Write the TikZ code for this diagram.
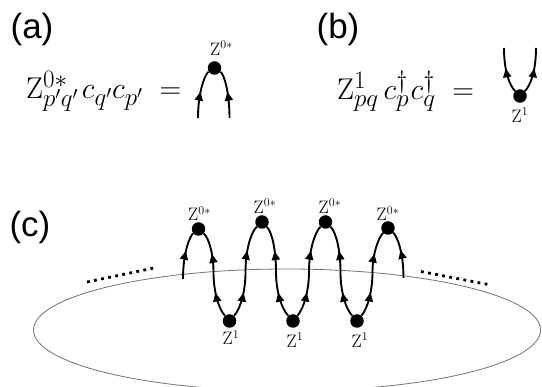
\RequirePackage{fix-cm}
\documentclass[tikz,border=0pt]{standalone}
\usepackage[no-math]{fontspec}
\setmainfont{Liberation Sans}
\usetikzlibrary{decorations.markings,arrows.meta}
\DeclareMathSizes{30}{30}{25}{18}
\DeclareMathSizes{18}{18}{12}{9}
\newcommand{\bigfs}{\fontsize{35}{38}\selectfont}
\newcommand{\eqfs}{\fontsize{30}{33}\selectfont}
\newcommand{\lblfs}{\fontsize{18}{19}\selectfont}
\tikzset{
  x=1pt,y=-1pt,
  vtx/.style={circle,fill=black,draw=none,minimum size=13.5pt,inner sep=0pt},
  panel/.style={font=\bigfs,inner sep=0pt},
  eqn/.style={font=\eqfs,inner sep=0pt},
  lbl/.style={font=\lblfs,inner sep=0pt},
  ar/.style={line width=1.9pt,black,postaction={decorate},decoration={markings,mark=at position #1 with {\arrow{Triangle[length=9pt,width=8pt]}}}},
  dots/.style={line width=2.8pt,dash pattern=on 2.8pt off 4.4pt},
}
\begin{document}
\begin{tikzpicture}
\clip (0,0) rectangle (542,387);
\useasboundingbox (0,0) rectangle (542,387);
% ellipse
\draw[line width=0.8pt,black!55] (287,330) ellipse [x radius=253.5,y radius=61];
% panel labels
\node[panel] (la) at (32,29) {(a)};
\node[panel] (lb) at (338,29) {(b)};
\node[panel] (lc) at (30,227) {(c)};
% equations
\node[eqn,anchor=base west] (ea) at (26,98.5) {$\mathrm{Z}^{0*}_{p'q'}\mkern2mu c_{q'}c_{p'}\;=$};
\node[eqn,anchor=base west] (eb) at (337,99.5) {$\mathrm{Z}^{1}_{pq}\mkern3mu c^\dagger_{p}\mkern1mu c^\dagger_{q}\;=$};
% (a)
\node[vtx] (a0) at (214.5,68) {};
\coordinate (a1) at (198,118);
\coordinate (a2) at (229.5,118);
\node[lbl] (az) at (221.5,48) {$\mathrm{Z}^{0*}$};
\draw[ar=0.55] (a1) .. controls (198,92) and (205,74) .. (a0);
\draw[ar=0.55] (a2) .. controls (229.5,92) and (224,74) .. (a0);
% (b)
\node[vtx] (b0) at (520,96) {};
\coordinate (b1) at (504,48);
\coordinate (b2) at (536,48);
\node[lbl] (bz) at (520,115) {$\mathrm{Z}^{1}$};
\draw[ar=0.55] (b0) .. controls (510,86) and (504,72) .. (b1);
\draw[ar=0.55] (b0) .. controls (530,86) and (536,72) .. (b2);
% (c)
\node[vtx] (t1) at (198.5,229) {};
\node[vtx] (t2) at (262,222) {};
\node[vtx] (t3) at (325.5,222) {};
\node[vtx] (t4) at (388,228) {};
\node[vtx] (u1) at (229.5,321) {};
\node[vtx] (u2) at (293,321) {};
\node[vtx] (u3) at (357,321) {};
\coordinate (s) at (183,279);
\coordinate (e) at (403.5,278);
\coordinate (m1) at (213.5,272);
\coordinate (m2) at (245.5,272);
\coordinate (m3) at (276,272);
\coordinate (m4) at (309,272);
\coordinate (m5) at (340.5,272);
\coordinate (m6) at (372.5,272);
\node[lbl] at (199.5,213.5) {$\mathrm{Z}^{0*}$};
\node[lbl] at (265,206) {$\mathrm{Z}^{0*}$};
\node[lbl] at (330,206) {$\mathrm{Z}^{0*}$};
\node[lbl] at (388,213.5) {$\mathrm{Z}^{0*}$};
\node[lbl] at (231,337.5) {$\mathrm{Z}^{1}$};
\node[lbl] at (295,340) {$\mathrm{Z}^{1}$};
\node[lbl] at (360,340) {$\mathrm{Z}^{1}$};
\draw[ar=0.6] (s) .. controls (183,252) and (190,236) .. (t1);
\draw[ar=0.55] (u1) .. controls (218,308) and (213.5,290) .. (m1);
\draw[ar=0.45] (m1) .. controls (213.5,255) and (209,238) .. (t1);
\draw[ar=0.55] (u1) .. controls (241,308) and (245.5,290) .. (m2);
\draw[ar=0.45] (m2) .. controls (245.5,250) and (251,232) .. (t2);
\draw[ar=0.55] (u2) .. controls (281,308) and (276,290) .. (m3);
\draw[ar=0.45] (m3) .. controls (276,250) and (272,232) .. (t2);
\draw[ar=0.55] (u2) .. controls (304,308) and (309,290) .. (m4);
\draw[ar=0.45] (m4) .. controls (309,250) and (315,232) .. (t3);
\draw[ar=0.55] (u3) .. controls (345,308) and (340.5,290) .. (m5);
\draw[ar=0.45] (m5) .. controls (340.5,250) and (336,232) .. (t3);
\draw[ar=0.55] (u3) .. controls (368,308) and (372.5,290) .. (m6);
\draw[ar=0.45] (m6) .. controls (372.5,255) and (378,238) .. (t4);
\draw[ar=0.6] (e) .. controls (403.5,252) and (397,236) .. (t4);
% dotted
\coordinate (d1) at (87,282); \coordinate (d2) at (154,268);
\coordinate (d3) at (421,271.5); \coordinate (d4) at (488,284.5);
\draw[dots] (d1) -- (d2);
\draw[dots] (d3) -- (d4);
\end{tikzpicture}
\end{document}
